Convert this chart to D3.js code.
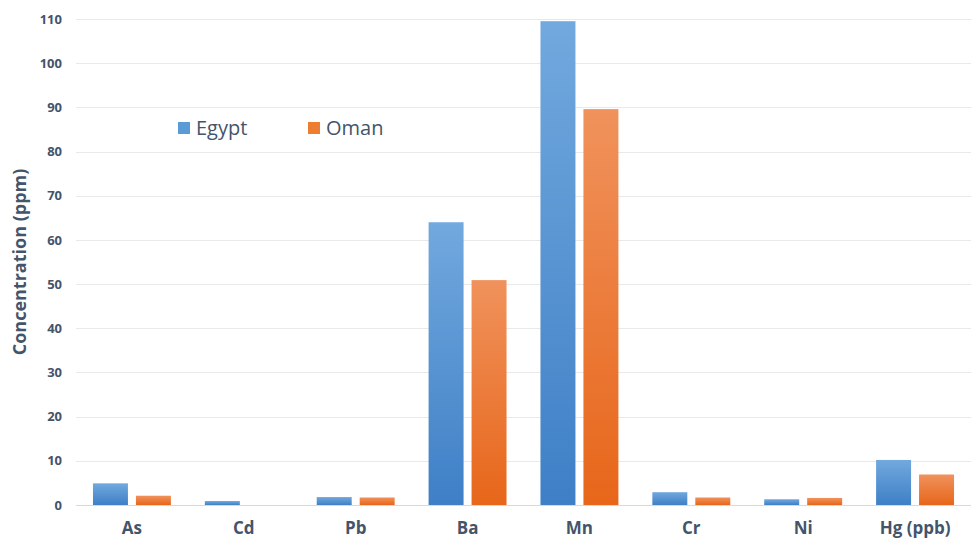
<!DOCTYPE html>
<html>
<head>
<meta charset="utf-8">
<script src="https://cdn.jsdelivr.net/npm/d3@7"></script>
<style>
  body { margin: 0; background: #fff; }
  text { font-family: "Open Sans", "Noto Sans", sans-serif; }
</style>
</head>
<body>
<svg id="chart"></svg>
<script>
var svgw = 971
var svgh = 540

var elements = ["As", "Cd", "Pb", "Ba", "Mn", "Cr", "Ni", "Hg (ppb)"]
var seriesNames = ["Egypt", "Oman"]
var egyptValues = [4.9, 0.9, 1.8, 64, 109.5, 2.9, 1.3, 10.2]
var omanValues = [2.1, 0, 1.7, 50.9, 89.6, 1.7, 1.6, 6.9]
var yTicks = [0, 10, 20, 30, 40, 50, 60, 70, 80, 90, 100, 110]

var margins = {left: 76, top: 19, right: 0, bottom: 35}
var graphDim = {width: svgw - margins.left - margins.right, height: svgh - margins.top - margins.bottom}

var svg = d3.select("#chart")
  .attr("width", svgw)
  .attr("height", svgh)

// gradients, light on top and darker at the base
var defs = svg.append("defs")
var grads = [
  {id: "gEgypt", top: "#72a9de", bottom: "#3e7fc6"},
  {id: "gOman", top: "#f0925c", bottom: "#e7661a"}
]
grads.forEach(function(g) {
  var lg = defs.append("linearGradient")
    .attr("id", g.id)
    .attr("x1", 0).attr("y1", 0).attr("x2", 0).attr("y2", 1)
  lg.append("stop").attr("offset", "0%").attr("stop-color", g.top)
  lg.append("stop").attr("offset", "100%").attr("stop-color", g.bottom)
})

var target = svg.append("g")
  .attr("transform", "translate(" + margins.left + "," + margins.top + ")")

var yscale = d3.scaleLinear()
  .domain([0, 110])
  .range([graphDim.height, 0])

var xscale = d3.scaleBand()
  .domain(elements)
  .range([0, graphDim.width])

var xinner = d3.scaleBand()
  .domain(seriesNames)
  .range([0, xscale.bandwidth()])
  .paddingInner(0.186)
  .paddingOuter(0.395)

// gridlines
target.append("g")
  .selectAll("line")
  .data(yTicks.slice(1))
  .enter()
  .append("line")
  .attr("x1", 0)
  .attr("x2", graphDim.width)
  .attr("y1", function(d) { return Math.round(yscale(d)) + 0.5 })
  .attr("y2", function(d) { return Math.round(yscale(d)) + 0.5 })
  .attr("stroke", "#e9e9e9")
  .attr("stroke-width", 1)

// bars
var rows = elements.map(function(e, i) {
  return {name: e, values: [{s: "Egypt", v: egyptValues[i]}, {s: "Oman", v: omanValues[i]}]}
})

var groups = target.append("g")
  .selectAll("g")
  .data(rows)
  .enter()
  .append("g")
  .attr("transform", function(d) { return "translate(" + xscale(d.name) + ",0)" })

groups.selectAll("rect")
  .data(function(d) { return d.values })
  .enter()
  .append("rect")
  .attr("x", function(d) { return xinner(d.s) })
  .attr("y", function(d) { return yscale(d.v) })
  .attr("width", xinner.bandwidth())
  .attr("height", function(d) { return graphDim.height - yscale(d.v) })
  .attr("fill", function(d) { return d.s == "Egypt" ? "url(#gEgypt)" : "url(#gOman)" })

// baseline
target.append("line")
  .attr("x1", 0)
  .attr("x2", graphDim.width)
  .attr("y1", graphDim.height + 0.5)
  .attr("y2", graphDim.height + 0.5)
  .attr("stroke", "#d9d9d9")

// y axis labels
var yAxis = d3.axisLeft(yscale)
  .tickValues(yTicks)
  .tickSize(0)
  .tickPadding(14)
var ya = target.append("g").call(yAxis)
ya.select(".domain").remove()
ya.selectAll("text")
  .attr("fill", "#44546a")
  .style("font-size", "13px")
  .style("font-weight", "bold")
  .style("font-family", "'Open Sans', sans-serif")

// x axis labels (kept just inside the bottom edge)
var xAxis = d3.axisBottom(xscale).tickSize(0).tickPadding(17)
var xa = target.append("g")
  .attr("transform", "translate(0," + graphDim.height + ")")
  .call(xAxis)
xa.select(".domain").remove()
xa.selectAll("text")
  .attr("fill", "#44546a")
  .style("font-size", "17px")
  .style("font-weight", "bold")
  .style("font-family", "'Open Sans', sans-serif")

// y title
svg.append("text")
  .attr("transform", "translate(26," + 262 + ") rotate(-90)")
  .attr("text-anchor", "middle")
  .attr("fill", "#44546a")
  .style("font-size", "18px")
  .style("font-weight", "bold")
  .text("Concentration (ppm)")

// legend
var legendColors = ["#5b9bd5", "#ed7d31"]
var legendX = [178, 308]
var legend = svg.append("g")
  .selectAll("g")
  .data(seriesNames)
  .enter()
  .append("g")
  .attr("transform", function(d, i) { return "translate(" + legendX[i] + ",122)" })
legend.append("rect")
  .attr("width", 12)
  .attr("height", 12)
  .attr("fill", function(d, i) { return legendColors[i] })
legend.append("text")
  .attr("x", 18)
  .attr("y", 13)
  .attr("fill", "#44546a")
  .style("font-size", "20px")
  .text(function(d) { return d })
</script>
</body>
</html>
